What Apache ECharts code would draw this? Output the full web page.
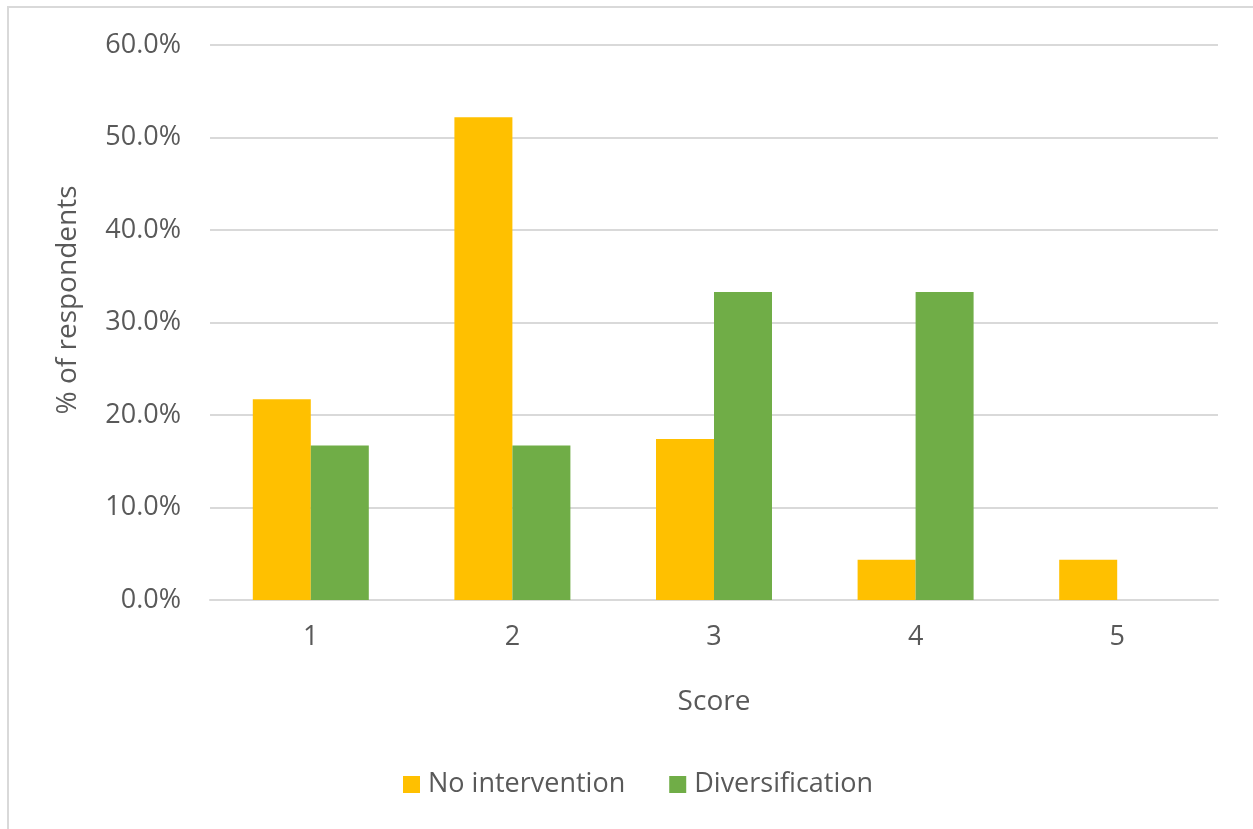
<!DOCTYPE html>
<html>
<head>
<meta charset="utf-8">
<script src="https://cdn.jsdelivr.net/npm/echarts@6/dist/echarts.min.js"></script>
<style>
html,body{margin:0;padding:0;background:#fff;}
#chart{width:1253px;height:829px;position:relative;}
#frame{position:absolute;left:7px;top:6px;right:0;bottom:0;border-left:2px solid #d9d9d9;border-top:2px solid #d9d9d9;pointer-events:none;}
</style>
</head>
<body>
<div style="position:relative;width:1253px;height:829px;">
<div id="chart"></div>
<div id="frame"></div>
</div>
<script>
const categories = ['1', '2', '3', '4', '5'];
const seriesNames = ['No intervention', 'Diversification'];
const noIntervention = [21.7, 52.2, 17.4, 4.35, 4.35];
const diversification = [16.7, 16.7, 33.3, 33.3, 0];
const yTicks = [0, 10, 20, 30, 40, 50, 60];

const FONT = '"Open Sans", "DejaVu Sans", sans-serif';
const TXT = '#595959';
const FS = 27;
const chart = echarts.init(document.getElementById('chart'), null, {renderer: 'canvas'});
chart.setOption({
  animation: false,
  backgroundColor: '#ffffff',
  color: ['#FFC000', '#70AD47'],
  grid: {left: 210, right: 35, top: 45, bottom: 229, containLabel: false},
  legend: {
    data: seriesNames,
    bottom: 26,
    left: 398,
    itemWidth: 17,
    itemHeight: 17,
    itemGap: 44,
    icon: 'rect',
    textStyle: {fontFamily: FONT, fontSize: FS, color: TXT, padding: [0, 0, 0, 3]}
  },
  xAxis: {
    type: 'category',
    data: categories,
    name: 'Score',
    nameLocation: 'middle',
    nameGap: 88,
    nameTextStyle: {fontFamily: FONT, fontSize: 28, color: TXT},
    axisLine: {show: true, lineStyle: {color: '#d9d9d9', width: 2}},
    axisTick: {show: false},
    axisLabel: {fontFamily: FONT, fontSize: FS, color: TXT, margin: 24}
  },
  yAxis: {
    type: 'value',
    min: yTicks[0],
    max: yTicks[yTicks.length - 1],
    interval: 10,
    name: '% of respondents',
    nameLocation: 'middle',
    nameGap: 128,
    nameTextStyle: {fontFamily: FONT, fontSize: 28, color: TXT, padding: [0, 0, 0, 45]},
    axisLine: {show: false},
    axisTick: {show: false},
    splitLine: {lineStyle: {color: '#d9d9d9', width: 2}},
    axisLabel: {fontFamily: FONT, fontSize: FS, color: TXT, margin: 29,
      formatter: v => v.toFixed(1) + '%'}
  },
  series: [
    {name: seriesNames[0], type: 'bar', data: noIntervention, barWidth: 58, barGap: '0%'},
    {name: seriesNames[1], type: 'bar', data: diversification, barWidth: 58, barGap: '0%'}
  ]
});
</script>
</body>
</html>
